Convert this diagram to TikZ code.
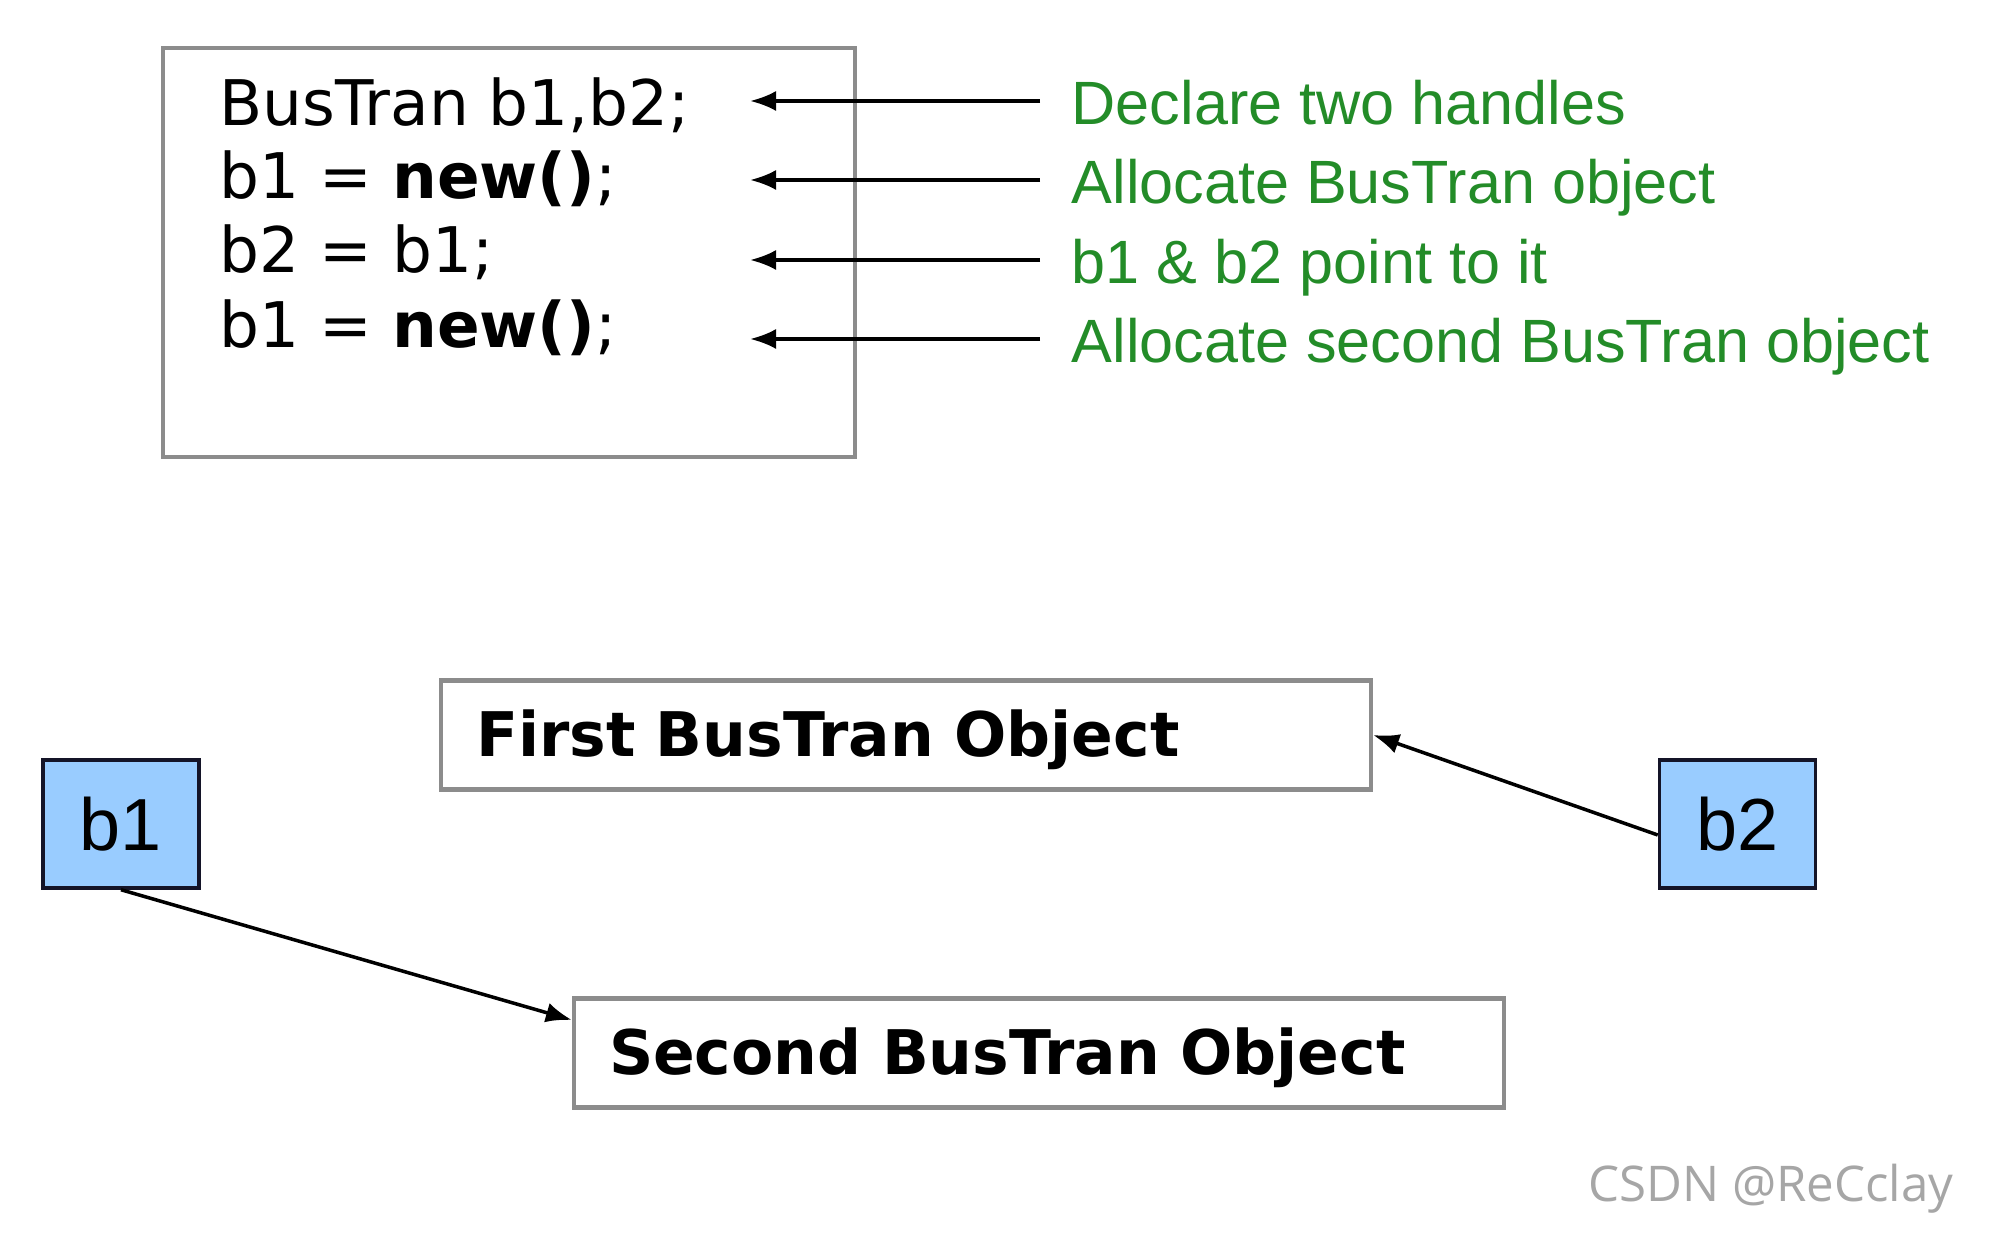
\documentclass[tikz,border=0pt]{standalone}
\usepackage{fontspec}
\usepackage{xcolor}
\usetikzlibrary{arrows.meta, positioning, calc}
\setmainfont{Liberation Sans}
\newfontfamily\codefont{DejaVu Sans}
\newfontfamily\markfont{Open Sans}
\definecolor{cgreen}{RGB}{35, 140, 40}
\definecolor{cblue}{RGB}{153, 204, 255}
\definecolor{cframe}{RGB}{140, 140, 140}
\definecolor{cnavy}{RGB}{20, 20, 40}

\begin{document}
\begin{tikzpicture}[
    codeline/.style={anchor=base west, inner sep=0pt, font=\codefont\fontsize{17.9}{21}\selectfont},
    note/.style={anchor=west, cgreen, inner xsep=0.31cm, inner ysep=0pt,
                 text height=0.58cm, text depth=0.10cm, font=\fontsize{17.4}{20}\selectfont},
    objbox/.style={draw=cframe, line width=1.2pt, minimum height=1.09cm, text width=8.6cm,
                   text height=0.44cm, text depth=0cm,
                   align=left, inner xsep=0.35cm, font=\codefont\bfseries\fontsize{17.5}{20}\selectfont},
    handle/.style={draw=cnavy, fill=cblue, line width=1pt, minimum width=1.56cm,
                   minimum height=1.28cm, inner sep=0pt, font=\fontsize{21}{24}\selectfont},
    ptr/.style={-{Latex[length=0.26cm, width=0.2cm]}, line width=1pt}
]
    \useasboundingbox (0,0) rectangle (20,12.44);

    % --- code ---
    \node[draw=cframe, line width=1.3pt, minimum width=6.92cm, minimum height=4.09cm]
        (codebox) at (5.09,9.915) {};
    \node[codeline] (c1) at (2.19,11.18) {BusTran b1,b2;};
    \node[codeline] (c2) at (2.19,10.45) {b1 = \textbf{new()};};
    \node[codeline] (c3) at (2.19,9.71)  {b2 = b1;};
    \node[codeline] (c4) at (2.19,8.96)  {b1 = \textbf{new()};};

    % --- notes ---
    \coordinate (tipx) at (7.50,0);
    \node[note] (d1) at (10.40,11.43) {Declare two handles};
    \node[note] (d2) at (10.40,10.64) {Allocate BusTran object};
    \node[note] (d3) at (10.40,9.84)  {b1 \& b2 point to it};
    \node[note] (d4) at (10.40,9.05)  {Allocate second BusTran object};
    \draw[ptr] (d1.west) -- (d1.west -| tipx);
    \draw[ptr] (d2.west) -- (d2.west -| tipx);
    \draw[ptr] (d3.west) -- (d3.west -| tipx);
    \draw[ptr] (d4.west) -- (d4.west -| tipx);

    % --- objects and handles ---
    \node[objbox] (obj1) at (9.06,5.09)  {First BusTran Object};
    \node[objbox] (obj2) at (10.39,1.91) {Second BusTran Object};
    \node[handle] (b1) at (1.21,4.20)  {b1};
    \node[handle] (b2) at (17.375,4.20) {b2};
    \draw[ptr] (b1.south) -- ([yshift=0.33cm]obj2.west);
    \draw[ptr] ([yshift=-0.11cm]b2.west) -- (obj1.east);

    \node[gray!70, font=\markfont\fontsize{14}{16}\selectfont] (mark) at (17.71,0.55) {CSDN @ReCclay};
\end{tikzpicture}
\end{document}
